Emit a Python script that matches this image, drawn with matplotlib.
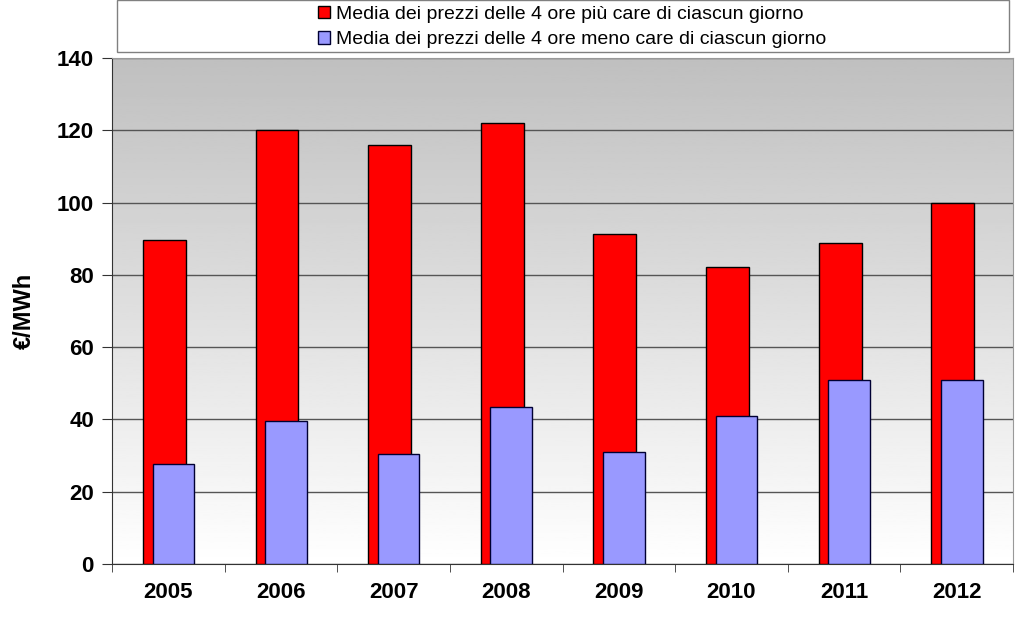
import numpy as np
import matplotlib.pyplot as plt
from matplotlib.patches import Rectangle, Patch

anni = ['2005', '2006', '2007', '2008', '2009', '2010', '2011', '2012']
prezzi_alti = [89.6, 120.0, 115.9, 122.0, 91.3, 82.2, 88.8, 99.9]
prezzi_bassi = [27.6, 39.6, 30.4, 43.4, 31.0, 41.0, 50.9, 50.9]
etichette = ['Media dei prezzi delle 4 ore più care di ciascun giorno',
             'Media dei prezzi delle 4 ore meno care di ciascun giorno']

plt.rcParams['font.family'] = ['Liberation Sans', 'DejaVu Sans']

fig = plt.figure(figsize=(10.24, 6.27), dpi=100)
ax = fig.add_axes([112 / 1024, 1 - 564 / 627, 901 / 1024, 506 / 627])

# sfondo sfumato grigio -> bianco
grad = np.linspace(0.75, 1.0, 256).reshape(-1, 1)
ax.imshow(grad, cmap='gray', vmin=0, vmax=1, aspect='auto',
          extent=[0, 1, 0, 1], transform=ax.transAxes, zorder=0)

x = np.arange(len(anni))
ax.bar(x - 0.035, prezzi_alti, width=0.38, color='#ff0000',
       edgecolor='black', linewidth=1, zorder=3)
ax.bar(x + 0.045, prezzi_bassi, width=0.37, color='#9999ff',
       edgecolor='#000033', linewidth=1, zorder=4)

ax.set_xlim(-0.5, len(anni) - 0.5)
ax.set_ylim(0, 140)
ax.set_yticks(range(0, 141, 20))
ax.yaxis.grid(True, color='#555555', linewidth=1, zorder=1)
ax.set_axisbelow(True)

ax.set_xticks(x)
ax.set_xticklabels(anni, fontsize=16, fontweight='bold')
ax.set_xticks(np.arange(-0.5, len(anni)), minor=True)
ax.tick_params(axis='x', which='major', length=0, pad=13)
ax.tick_params(axis='x', which='minor', length=6, color='#333333')
ax.tick_params(axis='y', length=7, labelsize=16, color='#333333', pad=6)
for lab in ax.get_yticklabels():
    lab.set_fontweight('bold')
ax.set_ylabel('€/MWh', fontsize=17, fontweight='bold')
ax.yaxis.set_label_coords(-76 / 901, 0.5)

for s in ['top', 'right']:
    ax.spines[s].set_color('#999999')
for s in ['left', 'bottom']:
    ax.spines[s].set_color('#333333')

# riquadro legenda
fig.patches.append(Rectangle((117 / 1024, 1 - 52 / 627), 892 / 1024, 52 / 627,
                             transform=fig.transFigure, facecolor='white',
                             edgecolor='#808080', linewidth=1))
handles = [Patch(facecolor='#ff0000', edgecolor='black'),
           Patch(facecolor='#9999ff', edgecolor='#000033')]
fig.legend(handles, etichette, loc='center', bbox_to_anchor=(572 / 1024, 1 - 27 / 627),
           frameon=False, fontsize=14, handlelength=0.6, handleheight=0.6,
           handletextpad=0.3, labelspacing=0.45)

fig.savefig('out.png', dpi=100)
